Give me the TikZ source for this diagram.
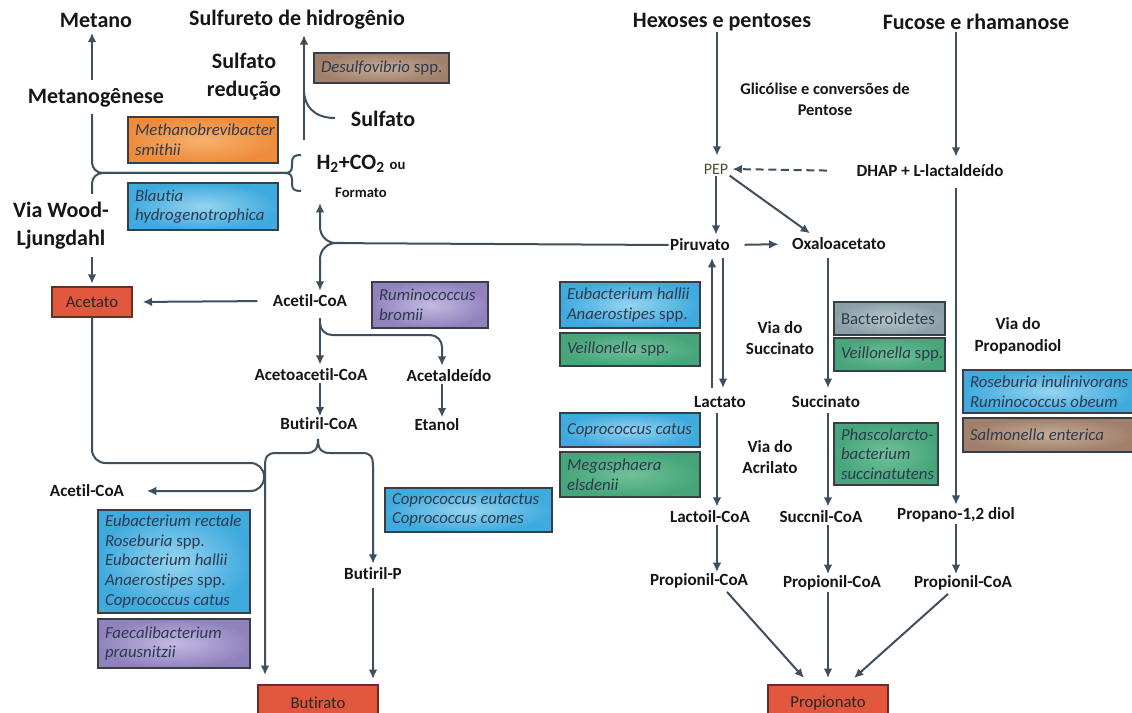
\documentclass[tikz,border=0pt]{standalone}
\usepackage{fontspec}
\setmainfont{Carlito}[Ligatures=NoCommon]
\usetikzlibrary{arrows.meta,calc}
\definecolor{lc}{RGB}{62,80,94}
\definecolor{txt}{RGB}{22,22,22}
\definecolor{btc}{RGB}{45,58,78}
\definecolor{bord}{RGB}{55,62,70}
\definecolor{blueO}{RGB}{62,170,222}
\definecolor{blueI}{RGB}{150,212,240}
\definecolor{greenO}{RGB}{70,165,122}
\definecolor{greenI}{RGB}{112,192,152}
\definecolor{purpleO}{RGB}{145,130,190}
\definecolor{purpleI}{RGB}{196,186,226}
\definecolor{orangeO}{RGB}{238,140,60}
\definecolor{orangeI}{RGB}{247,178,108}
\definecolor{brownO}{RGB}{160,128,106}
\definecolor{brownI}{RGB}{198,172,152}
\definecolor{grayO}{RGB}{138,160,166}
\definecolor{grayI}{RGB}{186,200,205}
\definecolor{redf}{RGB}{226,88,62}
\definecolor{rbord}{RGB}{105,45,35}
\definecolor{pepc}{RGB}{80,76,55}
\newcommand\bact[7]{%
  \node[#2, minimum width={(#5-#3)*0.75pt}, minimum height={(#6-#4)*0.75pt}] (#1) at ({(#3+#5)/2},{(#4+#6)/2}) {};%
  \node[btxt, anchor=west] (#1t) at ([xshift=5.5pt]#1.west) {#7};}
\begin{document}
\begin{tikzpicture}[x=0.75pt,y=-0.75pt,
  big/.style={font=\fontsize{16.5}{21}\selectfont\bfseries, text=txt, inner sep=1pt, align=center},
  mid/.style={font=\fontsize{12.8}{16}\selectfont\bfseries, text=txt, inner sep=1pt, align=center},
  lab/.style={font=\fontsize{12.3}{15.5}\selectfont\bfseries, text=txt, inner sep=1pt, align=center},
  small/.style={font=\fontsize{11}{13}\selectfont\bfseries, text=txt, inner sep=1pt},
  pepst/.style={font=\fontsize{12}{14}\selectfont, text=pepc, inner sep=1pt},
  btxt/.style={font=\fontsize{12.6}{14.8}\selectfont\itshape, text=btc, align=left, inner sep=0pt},
  box/.style={draw=bord, line width=0.9pt, inner sep=0pt},
  bluebox/.style={box, inner color=blueI, outer color=blueO},
  greenbox/.style={box, inner color=greenI, outer color=greenO},
  purplebox/.style={box, inner color=purpleI, outer color=purpleO},
  orangebox/.style={box, inner color=orangeI, outer color=orangeO},
  brownbox/.style={box, inner color=brownI, outer color=brownO},
  graybox/.style={box, inner color=grayI, outer color=grayO},
  redbox/.style={draw=rbord, fill=redf, line width=1pt, text=black!85, font=\fontsize{12.5}{15}\selectfont, inner sep=0pt},
  ln/.style={draw=lc, line width=1.5pt},
  arr/.style={ln, -{Latex[length=7pt,width=6.5pt]}}
]
\useasboundingbox (0,0) rectangle (1132,713);
\clip (0,0) rectangle (1132,713);
\fill[white] (0,0) rectangle (1132,713);

% ---------- left: titles and labels ----------
\node[big] (metano) at (96,20) {Metano};
\node[big] (sulfh) at (297,20) {Sulfureto de hidrogênio};
\node[big] (metanog) at (96,98) {Metanogênese};
\node[big] (sulfred) at (244,77) {Sulfato\\redução};
\node[big] (sulfato) at (383,119) {Sulfato};
\node[big, anchor=west] (h2) at (315,164) {H\textsubscript{2}+CO\textsubscript{2} {\fontsize{11}{13}\selectfont ou}};
\node[small] (formato) at (361,193) {Formato};
\node[big] (wood) at (61,226) {Via Wood-\\Ljungdahl};
\node[redbox, minimum width=60pt, minimum height=22.5pt] (acetato) at (92,302) {Acetato};

\node[mid] (acetil) at (310,301) {Acetil-CoA};
\node[mid] (acetoac) at (311,375) {Acetoacetil-CoA};
\node[mid] (acetald) at (449,376) {Acetaldeído};
\node[mid] (butcoa) at (319,424) {Butiril-CoA};
\node[mid] (etanol) at (437,425) {Etanol};
\node[mid] (acetil2) at (87,491) {Acetil-CoA};
\node[mid] (butp) at (373,574) {Butiril-P};
\node[redbox, minimum width=90pt, minimum height=27pt] (butirato) at (318,703) {Butirato};

% bacteria boxes (left)
\bact{mb}{orangebox}{128}{117}{278}{163}{Methanobrevibacter\\smithii}
\bact{bl}{bluebox}{128}{183}{278}{230}{Blautia\\hydrogenotrophica}
\bact{de}{brownbox}{314}{53}{449}{83}{Desulfovibrio \textup{spp.}}
\bact{rb}{purplebox}{372}{282}{488}{328}{Ruminococcus\\bromii}
\bact{ce}{bluebox}{385}{488}{552}{532}{Coprococcus eutactus\\Coprococcus comes}
\bact{er}{bluebox}{98}{510}{250}{613}{Eubacterium rectale\\Roseburia \textup{spp.}\\Eubacterium hallii\\Anaerostipes \textup{spp.}\\Coprococcus catus}
\bact{fa}{purplebox}{98}{619}{250}{668}{Faecalibacterium\\prausnitzii}

% ---------- right: labels ----------
\node[big] (hex) at (722,22) {Hexoses e pentoses};
\node[big] (fuc) at (976,22) {Fucose e rhamanose};
\node[lab] (glic) at (825,99) {Glicólise e conversões de\\Pentose};
\node[pepst] (pep) at (716,169) {PEP};
\node[mid] (dhap) at (930,171) {DHAP + L-lactaldeído};
\node[mid] (piruvato) at (700,245) {Piruvato};
\node[mid] (oxalo) at (839,244) {Oxaloacetato};
\node[mid] (lactato) at (720,402) {Lactato};
\node[mid] (succ) at (826,402) {Succinato};
\node[mid] (lactoil) at (710,517) {Lactoil-CoA};
\node[mid] (succnil) at (821,517) {Succnil-CoA};
\node[mid] (propano) at (956,515) {Propano-1,2 diol};
\node[mid] (prop1) at (699,581) {Propionil-CoA};
\node[mid] (prop2) at (832,583) {Propionil-CoA};
\node[mid] (prop3) at (963,583) {Propionil-CoA};
\node[redbox, minimum width=90pt, minimum height=27pt] (propionato) at (828,703) {Propionato};
\node[mid] (vsucc) at (780,338) {Via do\\Succinato};
\node[mid] (vacri) at (770,457) {Via do\\Acrilato};
\node[mid] (vprop) at (1018,336) {Via do\\Propanodiol};

% bacteria boxes (right)
\bact{eh}{bluebox}{560}{282}{700}{328}{Eubacterium hallii\\Anaerostipes \textup{spp.}}
\bact{ve}{greenbox}{560}{333}{700}{366}{Veillonella \textup{spp.}}
\bact{cc}{bluebox}{560}{413}{700}{447}{Coprococcus catus}
\bact{me}{greenbox}{560}{452}{700}{497}{Megasphaera\\elsdenii}
\bact{ba}{graybox}{834}{302}{945}{335}{\textup{Bacteroidetes}}
\bact{vb}{greenbox}{834}{338}{945}{371}{Veillonella \textup{spp.}}
\bact{ph}{greenbox}{834}{423}{938}{485}{Phascolarcto-\\bacterium\\succinatutens}
\bact{ro}{bluebox}{963}{370}{1136}{413}{Roseburia inulinivorans\\Ruminococcus obeum}
\bact{sa}{brownbox}{963}{418}{1136}{452}{Salmonella enterica}

% ---------- left connectors ----------
\coordinate (mA) at (92,80);
\draw[arr, shorten >=3pt] (mA) -- (mA |- metano.south);
\coordinate (mB) at (92,114);
\coordinate (mC) at (92,194);
\coordinate (hb) at (285,173);
\draw[ln, rounded corners=8pt] (mB) -- (92,173) -- (hb);
\draw[ln, rounded corners=8pt] (hb) -- (92,173) -- (mC);
\draw[ln] (301,155) .. controls (294,155) and (292,157) .. (292,163) -- (292,166)
  .. controls (292,171) and (290,173) .. (hb)
  .. controls (290,173) and (292,175) .. (292,180) -- (292,184)
  .. controls (292,189) and (294,191) .. (301,191);
\coordinate (wA) at (92,257);
\draw[arr, shorten >=2pt] (wA) -- (wA |- acetato.north);

\coordinate (sA) at (304,140);
\draw[arr, shorten >=3pt] (sA) -- (sA |- sulfh.south);
\draw[ln] (335,118) .. controls (314,118) and (304,106) .. (304,90);

\coordinate (pv) at (320,243);
\coordinate (pvU) at (320,203);
\draw[arr, rounded corners=12pt] (piruvato.west) -- (pv) -- (pvU);
\draw[arr, rounded corners=12pt, shorten >=2pt] (345,243) -- (pv) -- (pv |- acetil.north);

\draw[arr, shorten <=10.5pt, shorten >=7.5pt] (acetil.west) -- (acetato.east);
\coordinate (aC) at (320,318);
\draw[arr, shorten >=2pt] (aC) -- (aC |- acetoac.north);
\coordinate (aD) at (442,335);
\draw[arr, rounded corners=9pt, shorten >=2pt] (320,322) -- (320,335) -- (aD) -- (aD |- acetald.north);
\draw[arr] (acetoac.south -| aC) -- (butcoa.north -| aC);
\draw[arr] (acetald.south -| aD) -- (etanol.north -| aD);

\coordinate (bt) at (318,439);
\coordinate (bL) at (265,466);
\coordinate (bR) at (373,466);
\draw[arr, shorten >=7pt] (bt) .. controls (318,450) and (314,453) .. (306,453) -- (276,453)
  .. controls (268,453) and (265,456) .. (bL) -- (bL |- butirato.north);
\draw[arr, shorten >=2pt] (bt) .. controls (318,450) and (322,453) .. (330,453) -- (362,453)
  .. controls (370,453) and (373,456) .. (bR) -- (bR |- butp.north);
\draw[arr, rounded corners=10pt, shorten >=16pt] (acetato.south -| mA) -- (92,463) -- (264,463) -- (264,491) -- (acetil2.east);
\coordinate (bP) at (373,588);
\draw[arr, shorten >=4pt] (bP) -- (bP |- butirato.north);

% ---------- right connectors ----------
\coordinate (hx) at (717,32);
\draw[arr, shorten >=5pt] (hx) -- (hx |- pep.north);
\coordinate (fx) at (956,32);
\draw[arr, shorten >=5pt] (fx) -- (fx |- dhap.north);
\draw[arr, dashed, dash pattern=on 6pt off 3.5pt, shorten <=21pt, shorten >=2pt] (dhap.west) -- (pep.east);
\draw[arr, shorten >=2pt] (pep.south) -- (piruvato.north -| pep.south);
\draw[arr] (pep.south east) -- ($(oxalo.north)+(-29,-3)$);
\draw[arr, shorten <=10pt, shorten >=9pt] (piruvato.east) -- (oxalo.west);
\coordinate (u1) at (712,388);
\coordinate (d1) at (723,258);
\draw[arr] (u1) -- (u1 |- d1);
\draw[arr] (d1) -- (d1 |- u1);
\coordinate (ox) at (828,258);
\draw[arr] (ox) -- (ox |- u1);
\coordinate (lx) at (717,413);
\draw[arr, shorten >=2pt] (lx) -- (lx |- lactoil.north);
\coordinate (sx) at (828,413);
\draw[arr, shorten >=2pt] (sx) -- (sx |- succnil.north);
\coordinate (dx) at (956,188);
\draw[arr, shorten >=1pt] (dx) -- (dx |- propano.north);
\draw[arr] (lactoil.south -| lx) -- (prop1.north -| lx);
\draw[arr] (succnil.south -| sx) -- (prop2.north -| sx);
\draw[arr] (propano.south -| dx) -- (prop3.north -| dx);
\coordinate (pr) at (828,678);
\draw[arr] ($(prop1.south)+(28,2)$) -- ($(pr)+(-24,0)$);
\draw[arr] (prop2.south -| sx) -- (pr);
\draw[arr] ($(prop3.south)+(-15,2)$) -- ($(pr)+(26,0)$);
\end{tikzpicture}
\end{document}
